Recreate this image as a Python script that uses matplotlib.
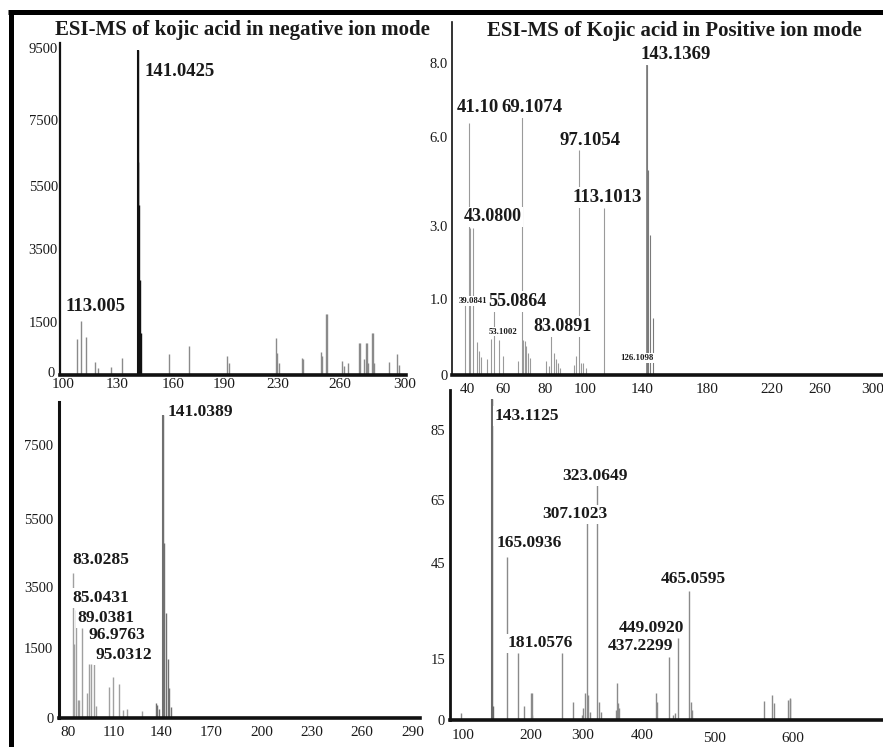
import numpy as np
import matplotlib
matplotlib.use("Agg")
import matplotlib.pyplot as plt
import matplotlib.transforms as mtrans
from matplotlib.lines import Line2D

plt.rcParams["font.family"] = ["Liberation Serif", "DejaVu Serif"]

W, H, DPI = 883, 747, 100

# ---------------------------------------------------------------- data
# Negative ion mode, first spectrum (m/z 100-300)
neg1_xticks = [100, 130, 160, 190, 230, 260, 300]
neg1_yticks = ["0", "1500", "3500", "5500", "7500", "9500"]
neg1_label_mz = ["141.0425", "113.005"]
neg1_label_int = [9450, 1084]
neg1_mz = [107.9, 109.8, 117.8, 119.6, 126.5, 132.5, 141.5, 141.8, 142.2, 143.0,
           158.0, 169.6, 192.4, 193.9, 228.5, 229.3, 230.4, 241.7, 242.2, 250.7,
           251.3, 253.1, 253.5, 261.2, 262.5, 265.1, 271.5, 272.1, 274.8, 276.0,
           276.4, 277.2, 279.5, 280.1, 281.1, 290.2, 294.9, 296.5]
neg1_int = [1019, 1536, 368, 207, 235, 473, 6230, 4900, 2650, 1190,
            594, 829, 538, 330, 1039, 614, 331, 473, 440, 660,
            538, 1719, 1719, 396, 255, 331, 914, 914, 444, 897,
            897, 340, 1197, 1197, 340, 376, 586, 283]

# Positive ion mode, low mass range (m/z 40-300)
pos1_xticks = [40, 60, 80, 100, 140, 180, 220, 260, 300]
pos1_yticks = ["0", "1.0", "3.0", "6.0", "8.0"]
pos1_label_mz = ["39.0841", "41.10", "43.0800", "53.1002", "55.0864", "69.1074",
                 "83.0891", "97.1054", "113.1013", "126.1098", "143.1369"]
pos1_label_int = [1.0, 6.38, 2.95, 0.48, 0.86, 6.55, 0.55, 5.56, 3.6, 0.0, 7.95]
pos1_mz = [41.9, 45.4, 46.7, 47.6, 50.9, 57.9, 60.1, 67.2, 69.6, 70.3,
           71.1, 72.0, 72.7, 80.75, 81.95, 84.45, 85.6, 86.6, 87.75, 94.7,
           95.6, 98.0, 99.1, 100.5, 143.7, 145.2, 146.8]
pos1_int = [2.95, 0.44, 0.31, 0.24, 0.21, 0.46, 0.25, 0.18, 0.46, 0.45,
            0.38, 0.29, 0.23, 0.18, 0.12, 0.29, 0.21, 0.16, 0.09, 0.13,
            0.25, 0.16, 0.16, 0.09, 4.89, 2.75, 0.75]

# Negative ion mode, second spectrum (m/z 80-290)
neg2_xticks = [80, 110, 140, 170, 200, 230, 260, 290]
neg2_yticks = ["0", "1500", "3500", "5500", "7500"]
neg2_label_mz = ["83.0285", "85.0431", "89.0381", "96.9763", "95.0312", "141.0389"]
neg2_label_int = [3903, 2746, 2146, 1631, 1157, 8311]
neg2_mz = [83.9, 86.5, 87.0, 92.7, 93.9, 98.1, 106.7, 109.1, 113.4, 116.0,
           118.5, 128.1, 136.6, 137.6, 138.7, 142.0, 143.0, 144.0, 145.0, 146.0]
neg2_int = [1621, 386, 386, 529, 1157, 264, 671, 885, 729, 171,
            186, 150, 315, 279, 186, 4785, 2657, 1258, 636, 229]

# Positive ion mode, wide mass range (m/z 100-600)
pos2_xticks = [100, 200, 300, 400, 500, 600]
pos2_yticks = ["0", "15", "45", "65", "85"]
pos2_label_mz = ["143.1125", "165.0936", "181.0576", "307.1023", "323.0649",
                 "437.2299", "449.0920", "465.0595"]
pos2_label_int = [93.8, 47.0, 16.8, 57.6, 69.3, 15.5, 21.5, 36.3]
pos2_mz = [96.6, 144.6, 189.7, 199.6, 201.9, 202.5, 259.6, 280.8, 297.3, 300.5,
           303.4, 309.3, 311.7, 327.6, 330.3, 355.4, 357.1, 358.8, 361.0, 418.8,
           421.0, 443.1, 445.2, 466.8, 468.7, 562.4, 573.1, 575.3, 594.0, 595.8,
           596.5]
pos2_int = [1.8, 3.4, 3.4, 6.6, 6.7, 1.2, 17.0, 4.5, 1.2, 2.9,
            6.6, 6.1, 2.0, 4.5, 2.0, 2.5, 9.2, 4.1, 2.9, 6.6,
            4.5, 1.2, 1.6, 4.5, 2.5, 4.7, 6.1, 4.1, 4.9, 5.3,
            5.1]

titles = ["ESI-MS of kojic acid in negative ion mode",
          "ESI-MS of Kojic acid in Positive ion mode"]

# ---------------------------------------------------------------- layout
# Each panel: axes box in pixels (left, top, right, bottom), pixel spots of
# the tick labels along x and y, label offsets in pixels and styling.
panels = [
    dict(xticks=neg1_xticks, yticks=neg1_yticks, label_mz=neg1_label_mz,
         label_int=neg1_label_int, mz=neg1_mz, inten=neg1_int,
         box=(60, 43, 406, 375),
         xpix=[63, 117, 173, 224, 278, 340, 405],
         ypix=[375, 322, 249, 186, 120, 48],
         xpad=2.5, ypad=1.5, lspine=1.6, bspine=2.6,
         line_c="#8a8a8a", main_c="#111111", lw=1.0,
         nudge_y={"0": (-3, 3)}, nudge_x={},
         offsets={"141.0425": (7, -22, "left", 13.5),
                  "113.005": (9, 30, "center", 13.5)}),
    dict(xticks=pos1_xticks, yticks=pos1_yticks, label_mz=pos1_label_mz,
         label_int=pos1_label_int, mz=pos1_mz, inten=pos1_int,
         box=(452, 22, 884, 375),
         xpix=[467, 503, 545, 585, 642, 707, 772, 820, 873],
         ypix=[375, 299, 226, 137, 63],
         xpad=5.5, ypad=3, lspine=1.2, bspine=2.6,
         line_c="#9a9a9a", main_c="#7a7a7a", lw=0.8,
         nudge_y={}, nudge_x={},
         offsets={"39.0841": (8, -2, "center", 6.3),
                  "41.10": (9, 15, "center", 13.5),
                  "43.0800": (20, 11, "center", 13),
                  "53.1002": (12, 7, "center", 6.3),
                  "55.0864": (23, 8, "center", 13),
                  "69.1074": (10, 9, "center", 13.5),
                  "83.0891": (11, 7, "center", 13),
                  "97.1054": (11, 10, "center", 13.5),
                  "113.1013": (4, 11, "center", 13.5),
                  "126.1098": (15, 17, "center", 6.3),
                  "143.1369": (29, 10, "center", 13.5)}),
    dict(xticks=neg2_xticks, yticks=neg2_yticks, label_mz=neg2_label_mz,
         label_int=neg2_label_int, mz=neg2_mz, inten=neg2_int,
         box=(59, 402, 420, 718),
         xpix=[68, 114, 161, 211, 262, 312, 362, 413],
         ypix=[718, 648, 587, 519, 445],
         xpad=6, ypad=4, lspine=2.2, bspine=2.6,
         line_c="#a0a0a0", main_c="#707070", lw=1.0,
         nudge_y={}, nudge_x={},
         offsets={"83.0285": (0, 13, "left", 12.5),
                  "85.0431": (-3, 12, "left", 12.5),
                  "89.0381": (-4, 10, "left", 12.5),
                  "96.9763": (-6, 9, "left", 12.5),
                  "95.0312": (4, 9, "left", 12.5),
                  "141.0389": (5, 3, "left", 12.5)}),
    dict(xticks=pos2_xticks, yticks=pos2_yticks, label_mz=pos2_label_mz,
         label_int=pos2_label_int, mz=pos2_mz, inten=pos2_int,
         box=(450, 390, 884, 720),
         xpix=[463, 531, 583, 642, 715, 793],
         ypix=[720, 659, 563, 500, 430],
         xpad=6.5, ypad=3.5, lspine=2.0, bspine=2.6,
         line_c="#8a8a8a", main_c="#6a6a6a", lw=1.0,
         nudge_y={}, nudge_x={"500": (0, -3), "600": (0, -3)},
         offsets={"143.1125": (2, -17, "left", 12.5),
                  "165.0936": (22, 14, "center", 12.5),
                  "181.0576": (22, 10, "center", 12.5),
                  "307.1023": (-12, 9, "center", 12.5),
                  "323.0649": (-2, 9, "center", 12.5),
                  "437.2299": (-29, 11, "center", 12.5),
                  "449.0920": (-26, 10, "center", 12.5),
                  "465.0595": (4, 12, "center", 12.5)}),
]

title_pos = [(242, 30), (674, 31)]
CLUSTER = 6.0   # peaks this close (in m/z) to the base peak share its darker tone


def knot_scale(values, pixels):
    """Piecewise-linear axis scale passing through the given tick spots."""
    v = np.asarray(values, float)
    p = np.asarray(pixels, float)
    s0 = (p[1] - p[0]) / (v[1] - v[0])
    s1 = (p[-1] - p[-2]) / (v[-1] - v[-2])
    far = 1e6
    v = np.r_[v[0] - far, v, v[-1] + far]
    p = np.r_[p[0] - far * s0, p, p[-1] + far * s1]
    return (lambda x: np.interp(x, v, p)), (lambda q: np.interp(q, p, v))


def nudge(labels, shifts):
    for lab in labels:
        if lab.get_text() in shifts:
            dx, dy = shifts[lab.get_text()]
            lab.set_transform(lab.get_transform() + mtrans.ScaledTranslation(
                dx / DPI, dy / DPI, fig.dpi_scale_trans))


fig = plt.figure(figsize=(W / DPI, H / DPI), dpi=DPI)
fig.patch.set_facecolor("white")

for P in panels:
    l, t, r, b = P["box"]
    ax = fig.add_axes([l / W, 1 - b / H, (r - l) / W, (b - t) / H])
    ax.set_facecolor("none")

    yvals = [float(s) for s in P["yticks"]]
    fx, ix = knot_scale(P["xticks"], P["xpix"])
    fy, iy = knot_scale(yvals, [H - q for q in P["ypix"]])
    ax.set_xscale("function", functions=(fx, ix))
    ax.set_yscale("function", functions=(fy, iy))
    ax.set_xlim(float(ix(l)), float(ix(r)))
    ax.set_ylim(float(iy(H - b)), float(iy(H - t)))

    lab_mz = [float(s) for s in P["label_mz"]]
    k = int(np.argmax(P["label_int"]))
    base_mz = lab_mz[k]

    # all peaks as sticks; the base peak and its isotope cluster in a darker tone
    all_mz = np.r_[P["mz"], lab_mz]
    all_int = np.r_[P["inten"], P["label_int"]]
    near = np.abs(all_mz - base_mz) <= CLUSTER
    ax.vlines(all_mz[~near], 0, all_int[~near], colors=P["line_c"], lw=P["lw"], zorder=2)
    ax.vlines(all_mz[near], 0, all_int[near], colors=P["main_c"], lw=P["lw"], zorder=3)
    ax.vlines([base_mz], 0, [P["label_int"][k]], colors=P["main_c"],
              lw=P["lw"] * 1.5, zorder=3)

    for s, m, v in zip(P["label_mz"], lab_mz, P["label_int"]):
        dx, dy, ha, fs = P["offsets"][s]
        ax.annotate(s, xy=(m, v), xytext=(dx, dy), textcoords="offset pixels",
                    ha=ha, va="center", fontsize=fs, fontweight="bold",
                    color="#1a1a1a", zorder=5, annotation_clip=False,
                    bbox=dict(boxstyle="square,pad=0.1", fc="white", ec="none"))

    ax.set_xticks(P["xticks"])
    ax.set_xticklabels([str(x) for x in P["xticks"]])
    ax.set_yticks(yvals)
    ax.set_yticklabels(P["yticks"])
    ax.minorticks_off()
    ax.tick_params(axis="x", length=0, pad=P["xpad"], labelsize=11, labelcolor="#1a1a1a")
    ax.tick_params(axis="y", length=0, pad=P["ypad"], labelsize=10.5, labelcolor="#1a1a1a")
    nudge(ax.get_xticklabels(), P["nudge_x"])
    nudge(ax.get_yticklabels(), P["nudge_y"])
    for side in ("top", "right"):
        ax.spines[side].set_visible(False)
    for side, lw in (("left", P["lspine"]), ("bottom", P["bspine"])):
        ax.spines[side].set_linewidth(lw)
        ax.spines[side].set_color("#111111")
        ax.spines[side].set_zorder(6)

for txt, (cx, cy) in zip(titles, title_pos):
    fig.text(cx / W, 1 - cy / H, txt, ha="center", va="center",
             fontsize=15, fontweight="bold", color="#1a1a1a")

# outer frame along the top and left edges
fig.add_artist(Line2D([11 / W, 11 / W], [0, 1 - 12 / H], transform=fig.transFigure,
                      color="black", lw=3.6, solid_capstyle="butt"))
fig.add_artist(Line2D([8 / W, 1], [1 - 12 / H, 1 - 12 / H], transform=fig.transFigure,
                      color="black", lw=3.6, solid_capstyle="butt"))

fig.savefig("out.png", dpi=DPI)
